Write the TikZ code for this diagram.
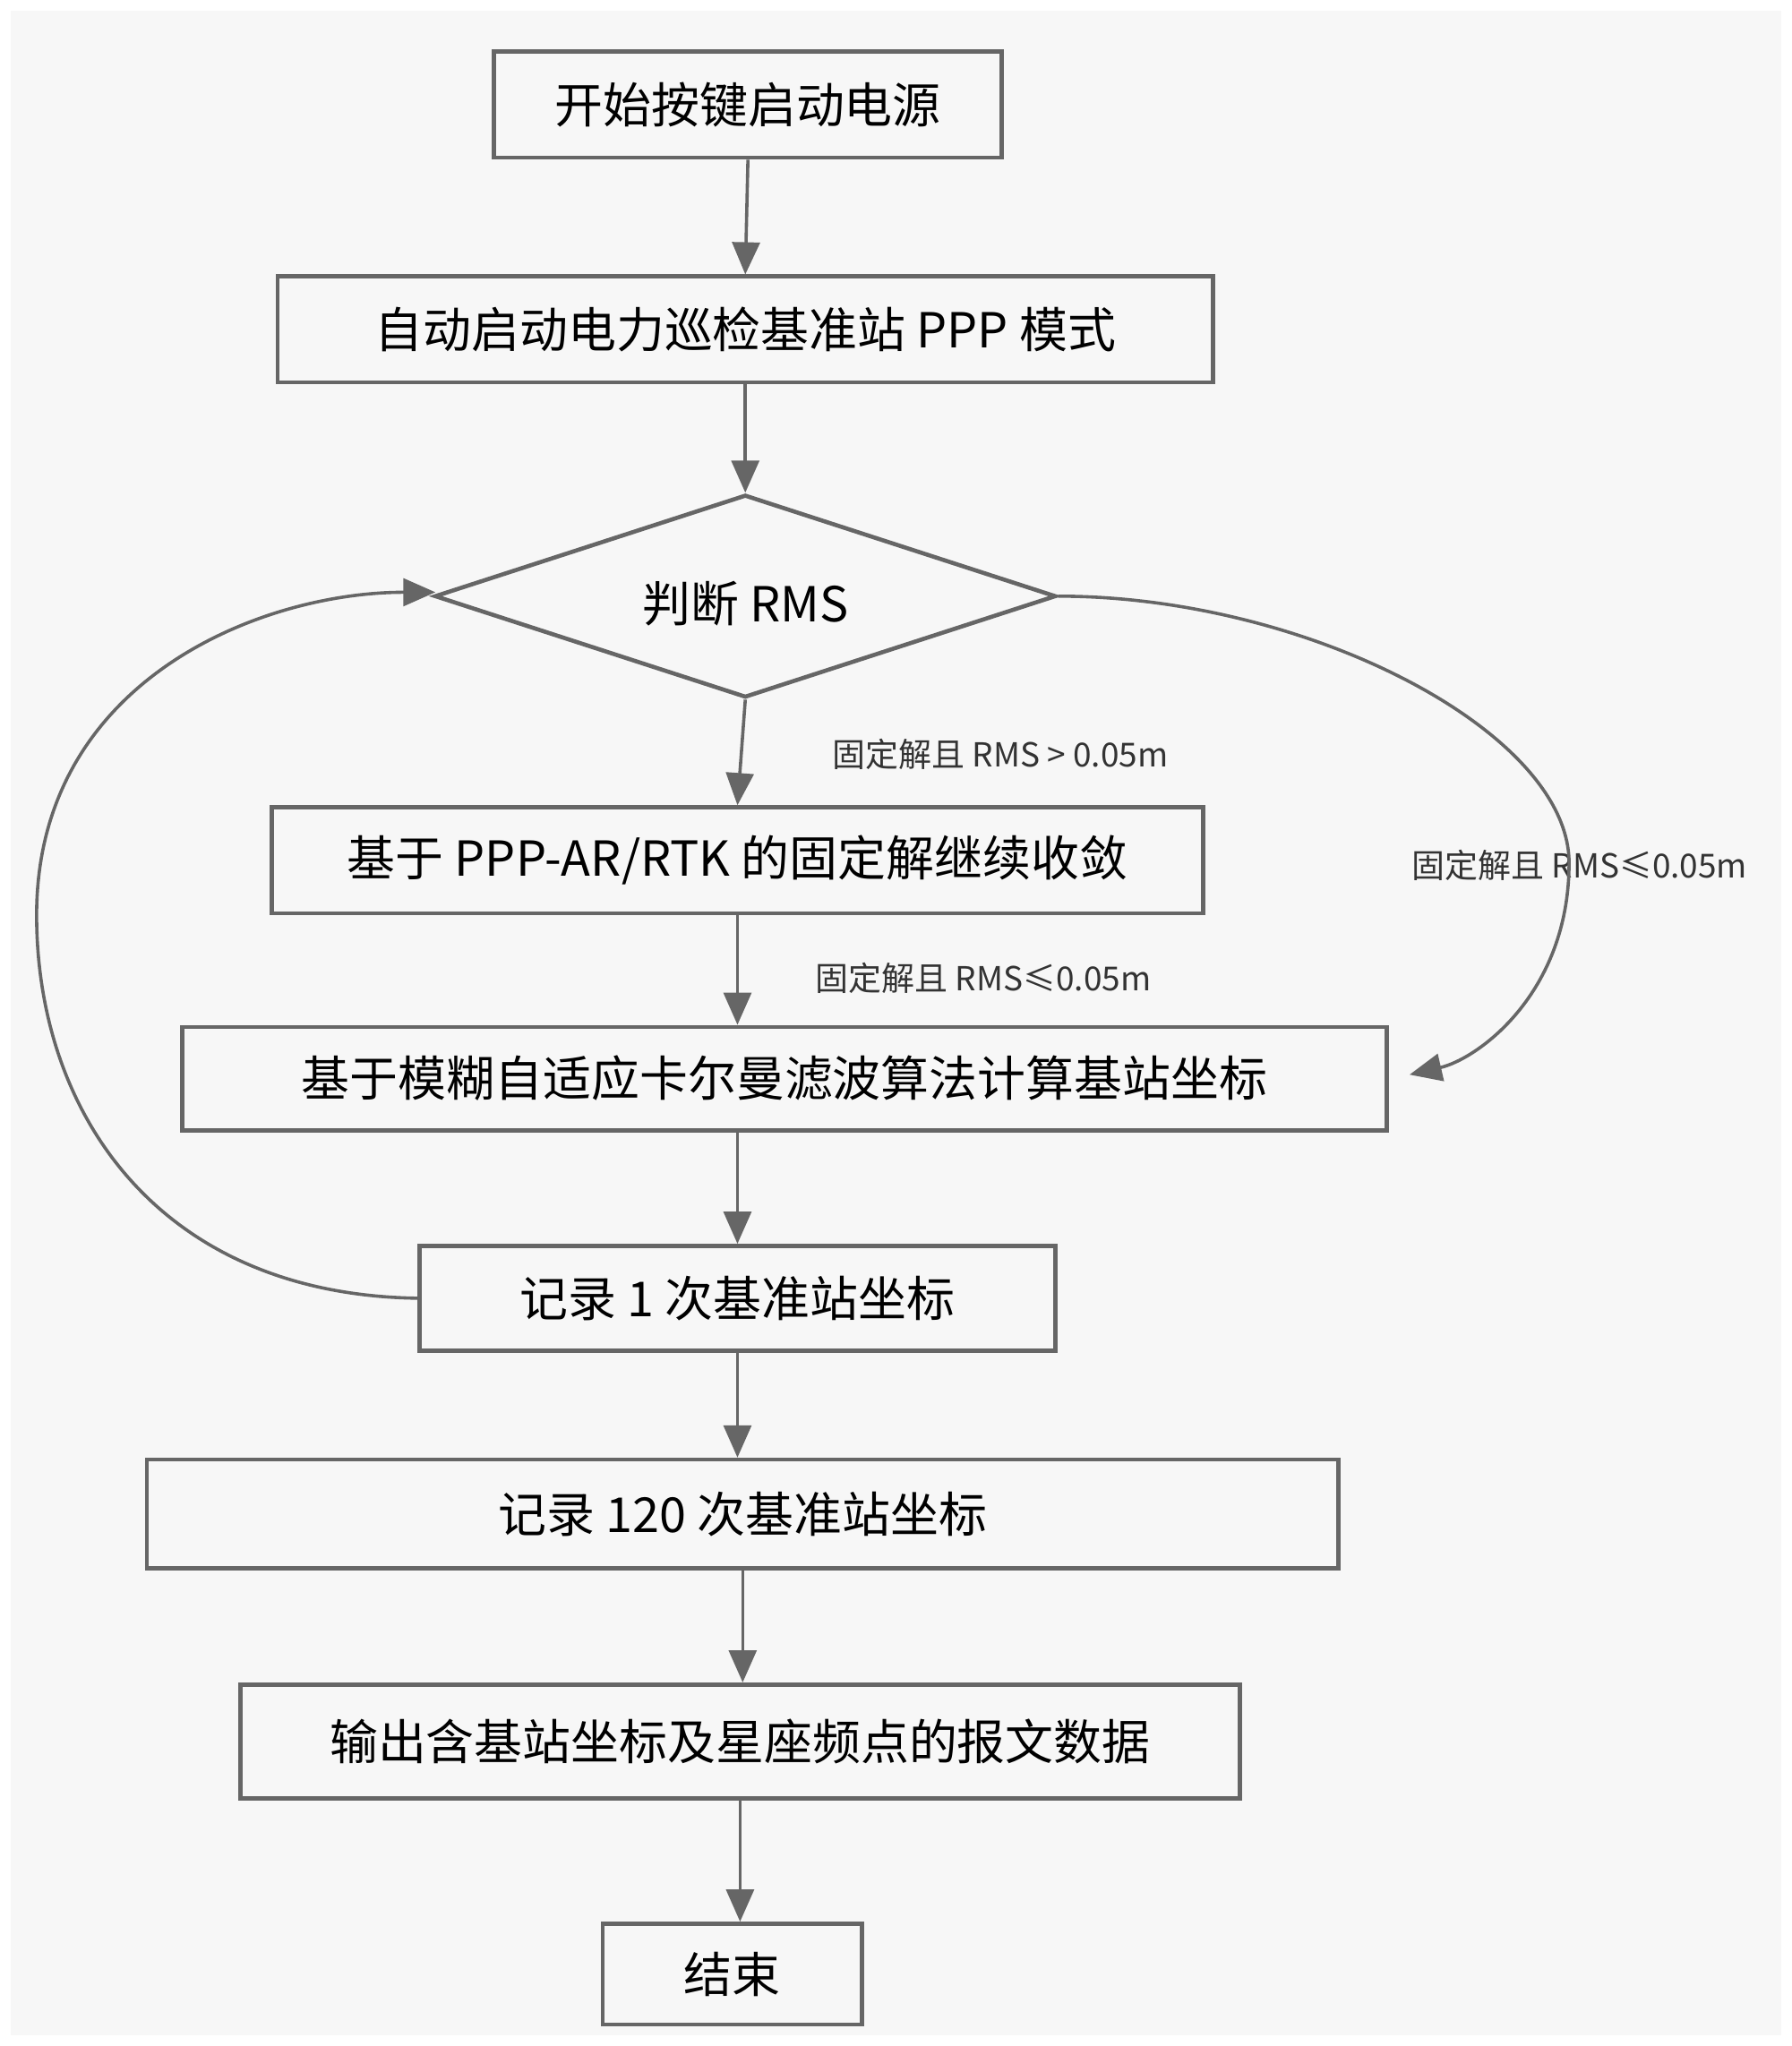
\documentclass[tikz,border=0pt]{standalone}
\usepackage{fontspec}
\setmainfont{Noto Sans CJK SC}
\usetikzlibrary{shapes.geometric, arrows.meta}
\tikzset{
  procbox/.style={draw=black!60, line width=0.9pt, inner sep=0pt, font=\fontsize{10.5}{12}\selectfont},
  decbox/.style={draw=black!60, line width=0.9pt, diamond, aspect=3.06, inner sep=0pt, font=\fontsize{10.5}{12}\selectfont},
  lbl/.style={font=\fontsize{7.2}{9}\selectfont, text=black!80},
  flow/.style={draw=black!60, line width=0.7pt, -{Triangle[length=7pt,width=6pt]}},
}
\begin{document}
\begin{tikzpicture}[x=0.01cm, y=-0.01cm]
  \useasboundingbox (0,0) rectangle (1370,1565);
  \fill[white] (0,0) rectangle (1370,1565);
  \fill[black!3] (8,8) rectangle (1362,1557);
  % boxes
  \node[procbox, minimum width=3.88cm, minimum height=0.81cm] (start) at (572,80) {开始按键启动电源};
  \node[procbox, minimum width=7.15cm, minimum height=0.81cm] (ppp) at (570,252) {自动启动电力巡检基准站 PPP 模式};
  \node[decbox, minimum width=4.75cm, minimum height=1.55cm] (rms) at (570,456) {};
  \node[font=\fontsize{10.5}{12}\selectfont] (rmstxt) at (570,462) {判断 RMS};
  \node[procbox, minimum width=7.12cm, minimum height=0.81cm] (fix) at (564,658) {基于 PPP-AR/RTK 的固定解继续收敛};
  \node[procbox, minimum width=9.21cm, minimum height=0.79cm] (kf) at (600,825) {基于模糊自适应卡尔曼滤波算法计算基站坐标};
  \node[procbox, minimum width=4.86cm, minimum height=0.80cm] (rec1) at (564,993) {记录 1 次基准站坐标};
  \node[procbox, minimum width=9.11cm, minimum height=0.83cm] (rec120) at (568,1158) {记录 120 次基准站坐标};
  \node[procbox, minimum width=7.64cm, minimum height=0.87cm] (out) at (566,1332) {输出含基站坐标及星座频点的报文数据};
  \node[procbox, minimum width=1.98cm, minimum height=0.77cm] (stop) at (560,1510) {结束};
  % labels
  \node[lbl] (l1) at (765,577) {固定解且 RMS > 0.05m};
  \node[lbl] (l2) at (752,748) {固定解且 RMS≤0.05m};
  \node[lbl] (l3) at (1208,662) {固定解且 RMS≤0.05m};
  % connectors
  \draw[flow] (start.south) -- (ppp.north);
  \draw[flow] (ppp.south) -- (rms.north);
  \draw[flow] (rms.south) -- (fix.north);
  \draw[flow] (fix.south) -- (fix.south |- kf.north);
  \draw[flow] (rec1.north |- kf.south) -- (rec1.north);
  \draw[flow] (rec1.south) -- (rec1.south |- rec120.north);
  \draw[flow] (rec120.south) -- (rec120.south |- out.north);
  \draw[flow] (out.south) -- (out.south |- stop.north);
  \coordinate (kfin) at (1078,822);
  \draw[flow] (rms.east) .. controls (1000,456) and (1200,560) .. (1200,660) .. controls (1200,760) and (1130,810) .. (kfin);
  \coordinate (rmsin) at (333,453);
  \draw[flow] (rec1.west) .. controls (120,990) and (28,850) .. (28,700) .. controls (28,520) and (200,453) .. (rmsin);
\end{tikzpicture}
\end{document}
